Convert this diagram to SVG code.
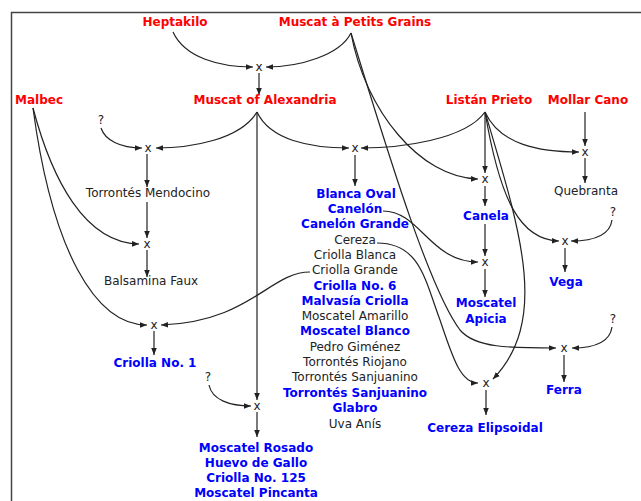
<svg xmlns="http://www.w3.org/2000/svg" width="641" height="501" viewBox="0 0 641 501">
<defs>
<marker id="ah" viewBox="0 0 10 10" refX="10" refY="5" markerWidth="7" markerHeight="7" markerUnits="userSpaceOnUse" orient="auto">
<path d="M0,1 L10,5 L0,9 Z" fill="#222"/>
</marker>
</defs>
<style>
text{font-family:"DejaVu Sans",Verdana,sans-serif;font-size:12px;text-anchor:middle}
.p{fill:#ff0000;font-weight:bold}
.b{fill:#0000ff;font-weight:bold}
.n{fill:#222}
.x{fill:#222}
.c path{fill:none;stroke:#222;stroke-width:1.2;marker-end:url(#ah)}
</style>
<rect x="11.5" y="12.5" width="640" height="500" fill="#fff" stroke="#444" stroke-width="1.5"/>
<g class="c" id="connectors">
<path d="M173,32 C185,58 220,67 253,67"/>
<path d="M351,33 C340,55 300,67 266,67"/>
<path d="M259,73 L259,95"/>
<path d="M101,128 C105,140 120,148 142,148"/>
<path d="M257,112 C240,140 190,148 156,148"/>
<path d="M257,112 C270,140 310,148 349,148"/>
<path d="M257,112 L257,400"/>
<path d="M147,154 L147,187"/>
<path d="M147,202 L147,238"/>
<path d="M33,108 C52,180 85,243 139,244"/>
<path d="M147,250 L147,277"/>
<path d="M33,108 C52,250 95,325 147,325"/>
<path d="M310,272 C270,272 250,322 161,325"/>
<path d="M154,331 L154,355"/>
<path d="M209,385 C212,400 230,406 251,406"/>
<path d="M257,412 L257,437"/>
<path d="M485,112 C465,140 400,148 361,148"/>
<path d="M355,155 L355,186"/>
<path d="M485,112 L485,173"/>
<path d="M351,33 C365,110 420,178 478,179"/>
<path d="M485,186 L485,206"/>
<path d="M485,224 L485,256"/>
<path d="M383,211 C420,211 430,262 478,262"/>
<path d="M485,269 L485,297"/>
<path d="M485,112 C500,145 540,152 579,152"/>
<path d="M585,112 L585,146"/>
<path d="M585,158 L585,183"/>
<path d="M485,112 C500,200 520,240 559,241"/>
<path d="M612,220 C610,235 595,241 571,241"/>
<path d="M565,248 L565,272"/>
<path d="M351,33 C390,160 430,290 460,330 C475,348 510,348 556,348"/>
<path d="M612,327 C610,342 595,348 572,348"/>
<path d="M564,355 L564,382"/>
<path d="M377,243 C420,243 425,280 440,320 C452,355 460,383 478,383"/>
<path d="M485,112 C520,230 550,320 493,379"/>
<path d="M486,390 L486,415"/>
</g>
<g id="heptakilo"><text class="p" x="175" y="26">Heptakilo</text></g>
<g id="mapg"><text class="p" x="355" y="26">Muscat à Petits Grains</text></g>
<g id="x1"><text class="x" x="259" y="71">x</text></g>
<g id="malbec"><text class="p" x="39" y="104">Malbec</text></g>
<g id="moa"><text class="p" x="265" y="104">Muscat of Alexandria</text></g>
<g id="listan"><text class="p" x="489" y="104">Listán Prieto</text></g>
<g id="mollar"><text class="p" x="588" y="104">Mollar Cano</text></g>
<g id="q1"><text class="n" x="101" y="124">?</text></g>
<g id="x2"><text class="x" x="148" y="152">x</text></g>
<g id="x6"><text class="x" x="355" y="152">x</text></g>
<g id="x10"><text class="x" x="585" y="156">x</text></g>
<g id="x7"><text class="x" x="485" y="183">x</text></g>
<g id="tmendocino"><text class="n" x="148" y="197">Torrontés Mendocino</text></g>
<g id="quebranta"><text class="n" x="586" y="195">Quebranta</text></g>
<g id="group">
<text class="b" x="356" y="198">Blanca Oval</text>
<text class="b" x="355" y="213">Canelón</text>
<text class="b" x="355" y="228">Canelón Grande</text>
<text class="n" x="355" y="244">Cereza</text>
<text class="n" x="355" y="259">Criolla Blanca</text>
<text class="n" x="355" y="274">Criolla Grande</text>
<text class="b" x="355" y="290">Criolla No. 6</text>
<text class="b" x="355" y="305">Malvasía Criolla</text>
<text class="n" x="355" y="320">Moscatel Amarillo</text>
<text class="b" x="355" y="335">Moscatel Blanco</text>
<text class="n" x="355" y="351">Pedro Giménez</text>
<text class="n" x="355" y="366">Torrontés Riojano</text>
<text class="n" x="355" y="381">Torrontés Sanjuanino</text>
<text class="b" x="355" y="397">Torrontés Sanjuanino</text>
<text class="b" x="355" y="412">Glabro</text>
<text class="n" x="355" y="428">Uva Anís</text>
</g>
<g id="canela"><text class="b" x="486" y="220">Canela</text></g>
<g id="q2"><text class="n" x="613" y="216">?</text></g>
<g id="x9"><text class="x" x="565" y="245">x</text></g>
<g id="x3"><text class="x" x="147" y="248">x</text></g>
<g id="x8"><text class="x" x="485" y="266">x</text></g>
<g id="balsamina"><text class="n" x="151" y="285">Balsamina Faux</text></g>
<g id="vega"><text class="b" x="566" y="286">Vega</text></g>
<g id="apicia"><text class="b" x="486" y="307">Moscatel</text><text class="b" x="486" y="323">Apicia</text></g>
<g id="q3"><text class="n" x="613" y="323">?</text></g>
<g id="x4"><text class="x" x="154" y="329">x</text></g>
<g id="x11"><text class="x" x="564" y="352">x</text></g>
<g id="criolla1"><text class="b" x="155" y="367">Criolla No. 1</text></g>
<g id="q4"><text class="n" x="208" y="381">?</text></g>
<g id="x12"><text class="x" x="486" y="387">x</text></g>
<g id="ferra"><text class="b" x="564" y="394">Ferra</text></g>
<g id="x5"><text class="x" x="257" y="410">x</text></g>
<g id="cerezaelip"><text class="b" x="485" y="432">Cereza Elipsoidal</text></g>
<g id="rosado">
<text class="b" x="256" y="452">Moscatel Rosado</text>
<text class="b" x="256" y="467">Huevo de Gallo</text>
<text class="b" x="256" y="482">Criolla No. 125</text>
<text class="b" x="256" y="497">Moscatel Pincanta</text>
</g>
</svg>
